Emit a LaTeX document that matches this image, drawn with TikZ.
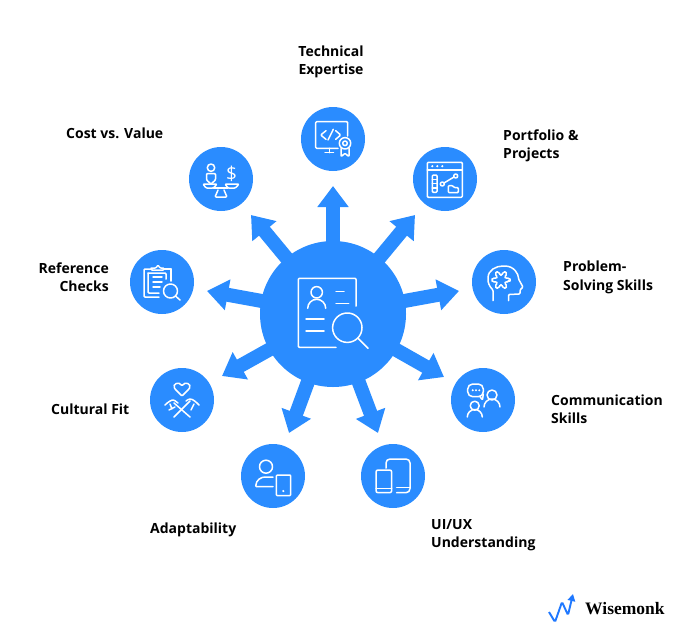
\documentclass[tikz,border=0pt]{standalone}
\usepackage{fontspec}
\setmainfont{Open Sans}
\newfontfamily\brandfont{Liberation Serif}
\usetikzlibrary{arrows.meta,positioning}
\definecolor{monkblue}{HTML}{2A8CFF}
\definecolor{logoblue}{HTML}{1F78FF}
\tikzset{
    wheel/.style={x=1pt,y=-1pt},
    hubdisc/.style={circle,fill=monkblue,minimum size=146pt,inner sep=0pt},
    skill/.style={circle,fill=monkblue,minimum size=64pt,inner sep=0pt},
    spoke/.style={->,>={Triangle[length=21pt,width=30pt]},draw=monkblue,line width=14pt,shorten <=-4pt},
    tag/.style={font=\fontsize{14}{18.5}\selectfont\bfseries,align=left,text=black,inner sep=0pt},
    glyph/.style={draw=white,line width=1.5pt,line cap=round,line join=round,rounded corners=1pt},
    }
\begin{document}
\begin{tikzpicture}[wheel]
    \useasboundingbox (0,0) rectangle (687,632);

    \node[hubdisc] (hub) at (333,314) {};
    \node[skill] (tech) at (333,139) {};
    \node[skill] (cost) at (221,179) {};
    \node[skill] (port) at (445,179) {};
    \node[skill] (prob) at (504,282) {};
    \node[skill] (refs) at (162,282) {};
    \node[skill] (comm) at (483,400) {};
    \node[skill] (cult) at (182,400) {};
    \node[skill] (adap) at (273,476) {};
    \node[skill] (uiux) at (393,476) {};

    \coordinate (tipTech) at (333,186);
    \coordinate (tipCost) at (251,215);
    \coordinate (tipPort) at (415,215);
    \coordinate (tipProb) at (459,291);
    \coordinate (tipRefs) at (207,291);
    \coordinate (tipComm) at (444,377);
    \coordinate (tipCult) at (222,376);
    \coordinate (tipAdap) at (289,433);
    \coordinate (tipUiux) at (378,433);

    \draw[spoke] (hub) -- (tipTech);
    \draw[spoke] (hub) -- (tipCost);
    \draw[spoke] (hub) -- (tipPort);
    \draw[spoke] (hub) -- (tipProb);
    \draw[spoke] (hub) -- (tipRefs);
    \draw[spoke] (hub) -- (tipComm);
    \draw[spoke] (hub) -- (tipCult);
    \draw[spoke] (hub) -- (tipAdap);
    \draw[spoke] (hub) -- (tipUiux);

    \node[tag,align=center] (lblTech) at (331,62) {Technical\\Expertise};
    \node[tag,anchor=west] (lblCost) at (66,133) {Cost vs. Value};
    \node[tag,anchor=west] (lblPort) at (503,146) {Portfolio \&\\Projects};
    \node[tag,anchor=west] (lblProb) at (563,277.5) {Problem-\\Solving Skills};
    \node[tag,anchor=east,align=right] (lblRefs) at (109,277) {Reference\\Checks};
    \node[tag,anchor=west] (lblComm) at (551,409) {Communication\\Skills};
    \node[tag,anchor=west] (lblCult) at (51,409) {Cultural Fit};
    \node[tag,anchor=west] (lblAdap) at (150,530) {Adaptability};
    \node[tag,anchor=west] (lblUiux) at (431,535) {UI/UX\\Understanding};

    % hub document
    \begin{scope}[shift={(hub.center)},glyph]
        \draw (23,-8) -- (23,-35.7) -- (-34.7,-35.7) -- (-34.7,33.3) -- (3,33.3);
        \draw (-16.3,-21.7) circle (5.7);
        \draw (-25.3,-5.7) arc (180:360:9 and 9);
        \draw (3,-22.7) -- (11,-22.7);
        \draw (3,-10.3) -- (15.7,-10.3);
        \draw (-27,5) -- (-9,5);
        \draw (-27,17) -- (-9,17);
        \draw (14.3,13.7) circle (14.7);
        \draw (25,24.3) -- (35,34.3);
    \end{scope}

    % technical expertise
    \begin{scope}[shift={(tech.center)},glyph]
        \draw (14.7,-3) -- (14.7,-17.3) -- (-17.3,-17.3) -- (-17.3,9.3) -- (5,9.3);
        \draw (-3.7,9.3) -- (-3.7,13.7);
        \draw (-8,13.7) -- (0.5,13.7);
        \draw (-7,-8.3) -- (-12.3,-4) -- (-7,0.3);
        \draw (0.3,-9.7) -- (-5,1);
        \draw (2.7,-8.3) -- (7.7,-4) -- (2.7,0.3);
        \draw (12,4.3) circle (5.7);
        \draw (12,4.3) circle (2.3);
        \draw (8,9.5) -- (8,17.7) -- (12,14.3) -- (16,17.7) -- (16,9.5);
    \end{scope}

    % cost vs value
    \begin{scope}[shift={(cost.center)},glyph]
        \draw (-10,-11.3) circle (3.7);
        \draw (-10,5) -- (-14.5,1) -- (-14.5,-5.5) -- (-5.5,-5.5) -- (-5.5,1) -- cycle;
        \draw (-18,5) -- (-4,5) -- (-7.5,9) -- (-15,9) -- cycle;
        \draw (4,5) -- (18,5) -- (14.5,9) -- (7,9) -- cycle;
        \draw (-7.5,9) -- (7,9);
        \draw (-3,11) -- (-6,18) -- (6,18) -- (3,11);
        \node[text=white,inner sep=0pt,font=\fontsize{19}{19}\selectfont] (dollar) at (10.5,-5.5) {\$};
    \end{scope}

    % portfolio
    \begin{scope}[shift={(port.center)},glyph]
        \draw (-17.7,-16.7) rectangle (17.3,18.3);
        \draw (-17.7,-9) -- (17.3,-9);
        \fill[white] (-12.7,-12.8) circle (1.2) (-7.7,-12.8) circle (1.2) (-2.7,-12.8) circle (1.2);
        \draw (-12.7,-4) rectangle (-8,13.3);
        \draw (-12.7,0.3) -- (-8,0.3) (-12.7,4.7) -- (-8,4.7) (-12.7,9) -- (-8,9);
        \draw (-2.7,5) circle (2);
        \draw (10.7,-3) circle (2);
        \draw (-1,4) -- (9,-2);
        \draw (3.3,13.7) -- (3.3,6.5) -- (7.5,6.5) -- (9,8.5) -- (13.3,8.5) -- (13.3,13.7) -- cycle;
    \end{scope}

    % problem solving
    \begin{scope}[shift={(prob.center)},glyph]
        \draw (-11,18.7) -- (-11,8) .. controls (-15,4) and (-16,0) .. (-16,-3) .. controls (-16,-12) and (-8,-16) .. (0,-16) .. controls (10,-16) and (14.5,-8) .. (14.5,-3) -- (19,5) -- (16,8) -- (16,12) -- (4.5,12.5) -- (4.5,18.7);
        \draw plot[smooth cycle,domain=0:348,samples=30] ({-3+(7+2*cos(6*\x))*cos(\x)},{-2+(7+2*cos(6*\x))*sin(\x)});
    \end{scope}

    % communication
    \begin{scope}[shift={(comm.center)},glyph]
        \draw (-3,-3.3) -- (-0.5,0) -- (0.3,-6);
        \draw[rounded corners=5pt] (-15.3,-16) rectangle (0.3,-3.3);
        \fill[white] (-10.3,-9.7) circle (1.1) (-7,-9.7) circle (1.1) (-3.7,-9.7) circle (1.1);
        \draw (9,-5) circle (5);
        \draw (1,7) arc (180:360:8 and 8);
        \draw (-8.3,5.7) circle (4.5);
        \draw (-15.7,17) arc (180:360:7.5 and 7.5);
    \end{scope}

    % cultural fit
    \begin{scope}[shift={(cult.center)},glyph]
        \draw (0,-4) -- (-7,-11) .. controls (-10,-16) and (-3,-19) .. (0,-14) .. controls (3,-19) and (10,-16) .. (7,-11) -- cycle;
        \draw (-8,17) -- (8,1);
        \draw (8,17) -- (-8,3);
        \draw (-17,5) .. controls (-13,1) and (-10,0) .. (-8,0) -- (-4,3);
        \draw (4,1) -- (7,-1) .. controls (11,-1) and (14,2) .. (17,5);
        \draw (-12,4) -- (-10,9) (-7,7) -- (-13,10);
        \draw (12,4) -- (9,10);
    \end{scope}

    % reference checks
    \begin{scope}[shift={(refs.center)},glyph]
        \draw (-10,-13) -- (-18,-13) -- (-18,15) -- (-3,15);
        \draw (9,-13) -- (9,-1);
        \draw (-14,-9) -- (4,-9) -- (4,-3);
        \draw (-14,-9) -- (-14,11) -- (-3,11);
        \draw (-11,-13) -- (-11,-12) -- (2,-12) -- (2,-14) -- (-2,-14) -- (-4,-17) -- (-6,-14) -- (-11,-14);
        \draw (2,-13) -- (9,-13);
        \draw (-9,-5) -- (0,-5) (-9,0) -- (0,0) (-9,5) -- (-2,5);
        \draw (8.5,9) circle (7);
        \draw (13.5,14) -- (18,18);
    \end{scope}

    % adaptability
    \begin{scope}[shift={(adap.center)},glyph]
        \draw (-7,-9.3) circle (6.5);
        \draw (0,10.7) -- (-17.3,10.7) .. controls (-17,4) and (-12,1) .. (-7,1) -- (0,1);
        \draw (3.3,-1) rectangle (17.7,19.7);
        \fill[white] (10.3,15) circle (1.2);
    \end{scope}

    % ui/ux
    \begin{scope}[shift={(uiux.center)},glyph]
        \draw[rounded corners=2pt] (-17,-6) rectangle (-1.3,16.7);
        \draw (-17,12.3) -- (-1.3,12.3);
        \draw[rounded corners=4pt] (-7,-8) -- (-7,-17) -- (17,-17) -- (17,16.7) -- (3.7,16.7);
        \draw (3.7,11.3) -- (17,11.3);
    \end{scope}

    % brand mark
    \coordinate (logoA) at (549,612);
    \coordinate (logoB) at (555,622);
    \coordinate (logoC) at (562,602);
    \coordinate (logoD) at (568,615);
    \coordinate (logoE) at (573,594);
    \draw[draw=logoblue,fill=none,line width=1.9pt,rounded corners=1.5pt,-{Triangle[length=7pt,width=7.5pt]}] (logoA) -- (logoB) -- (logoC) -- (logoD) -- (logoE);
    \node[anchor=west,inner sep=0pt,font=\brandfont\fontsize{17.5}{17.5}\selectfont\bfseries] (brand) at (585,609) {Wisemonk};
\end{tikzpicture}
\end{document}
